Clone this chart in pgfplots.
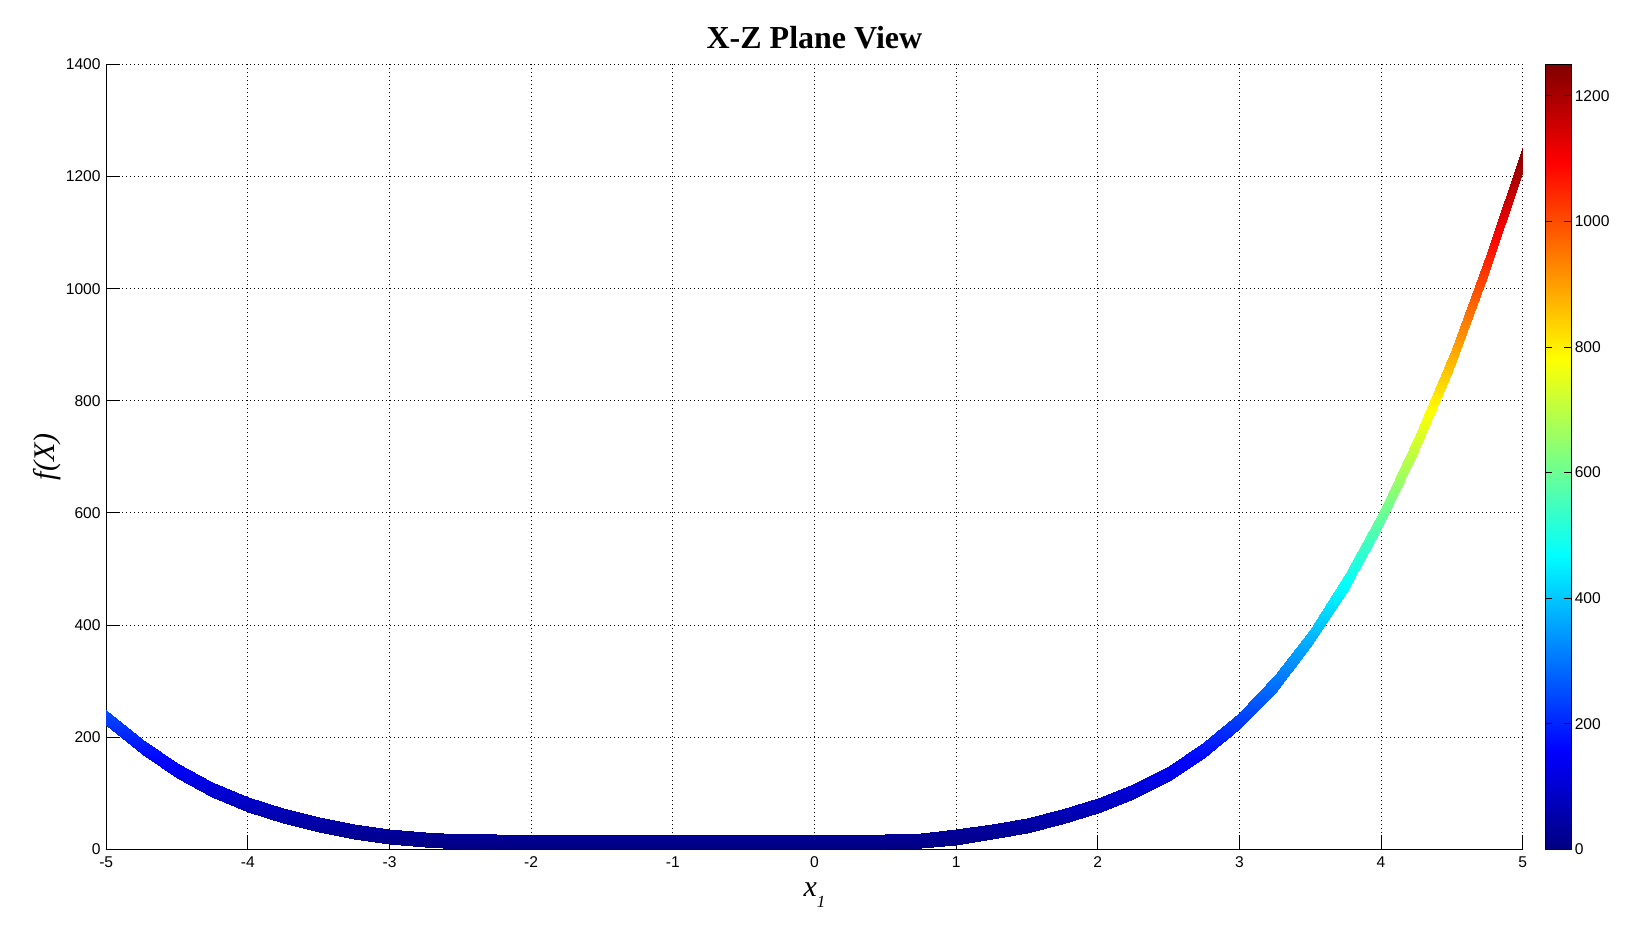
\documentclass[border=0pt]{standalone}
\usepackage{fontspec}
\setmainfont{Liberation Sans}
\newfontfamily\timesfont{Liberation Serif}
\usepackage{pgfplots}
\pgfplotsset{compat=1.18}
\usepackage{pgfplotstable}
% band of f(X) values: first scanline = lower edge, second = upper edge
\pgfplotstableread{
x y
-5 221.5
-4.75 170.5
-4.5 127.5
-4.25 93.5
-4 66.5
-3.75 46.5
-3.5 31.5
-3.25 19
-3 9.5
-2.75 3.5
-2.5 0.5
-2.25 0
-2 0
-1.75 0
-1.5 0
-1.25 0
-1 0
-0.75 0
-0.5 0
-0.25 0
0 0
0.25 0
0.5 0
0.75 2.5
1 8.5
1.25 17.5
1.5 29.5
1.75 44.5
2 64.5
2.25 89
2.5 121
2.75 162.5
3 214
3.25 279.5
3.5 360
3.75 458
4 571
4.25 702
4.5 852
4.75 1021
5 1211
-5 248.5
-4.75 197.5
-4.5 154.5
-4.25 120.5
-4 93.5
-3.75 73.5
-3.5 58.5
-3.25 46
-3 36.5
-2.75 30.5
-2.5 27.5
-2.25 26.5
-2 25.5
-1.75 25.5
-1.5 25.5
-1.25 25.5
-1 25.5
-0.75 25.5
-0.5 25.5
-0.25 25.5
0 25.5
0.25 25.5
0.5 26.5
0.75 29.5
1 35.5
1.25 44.5
1.5 56.5
1.75 71.5
2 91.5
2.25 117
2.5 149
2.75 191.5
3 244
3.25 310.5
3.5 392
3.75 492
4 607
4.25 740
4.5 892
4.75 1063
5 1255
}\band
\newcommand\tickfont{\fontsize{7.8}{9}\selectfont}
\begin{document}
\begin{tikzpicture}
\useasboundingbox (-53.1pt,-47.85pt) rectangle (762.9pt,424.65pt);
\begin{axis}[
  scale only axis, width=708.25pt, height=392.4pt,
  xmin=-5, xmax=5, ymin=0, ymax=1400,
  axis x line*=bottom, axis y line*=left,
  axis line style={-, line width=0.6pt, black},
  xtick={-5,-4,-3,-2,-1,0,1,2,3,4,5},
  xticklabels={-5,-4,-3,-2,-1,0,1,2,3,4,5},
  ytick={0,200,400,600,800,1000,1200,1400},
  yticklabels={0,200,400,600,800,1000,1200,1400},
  tick align=inside, major tick length=7pt,
  tick style={black, line width=0.5pt},
  xticklabel style={font=\tickfont, inner sep=0pt, anchor=north, yshift=-3.7pt},
  yticklabel style={font=\tickfont, inner sep=0pt, anchor=east, xshift=-2.6pt},
  grid=major,
  grid style={black, line width=0.5pt, dash pattern=on 0.5pt off 1.5pt},
  title={X-Z Plane View},
  title style={font=\timesfont\bfseries\fontsize{16}{19}\selectfont, at={(axis description cs:0.5,1)}, anchor=base, yshift=1.75pt, inner sep=0pt},
  xlabel={x\raisebox{-5.6pt}{\fontsize{8.5}{10}\selectfont 1}},
  xlabel style={font=\timesfont\itshape\fontsize{15}{18}\selectfont, at={(axis description cs:0.5,0)}, anchor=base, yshift=-23.7pt, inner sep=0pt},
  ylabel={f(X)},
  ylabel style={font=\timesfont\itshape\fontsize{15}{18}\selectfont, at={(axis description cs:-0.0414,0.5)}, anchor=center, inner sep=0pt},
  colormap/jet,
  point meta min=0, point meta max=1250,
  colorbar,
  colorbar style={
    at={(parent axis.north east)}, anchor=north west, xshift=2.7pt,
    scale only axis, width=13pt,
    ytick={0,200,400,600,800,1000,1200},
    yticklabels={0,200,400,600,800,1000,1200},
    tick align=inside, major tick length=3.4pt,
    ytick pos=both, yticklabel pos=right,
    tick style={black, line width=0.5pt},
    axis line style={black, line width=0.6pt},
    yticklabel style={font=\tickfont, inner sep=0pt, anchor=west, xshift=1.6pt},
  },
]
\addplot[surf, shader=interp, mesh/rows=2, mesh/cols=41, point meta=y] table[x=x, y=y] {\band};
\end{axis}
\end{tikzpicture}
\end{document}
